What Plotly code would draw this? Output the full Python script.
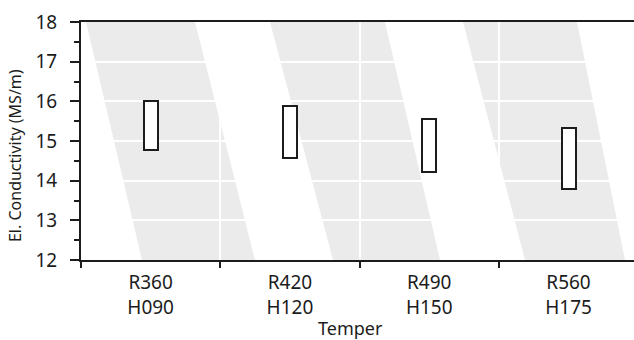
import plotly.graph_objects as go

# ---- data ----
tempers = ["R360<br>H090", "R420<br>H120", "R490<br>H150", "R560<br>H175"]
cond_low = [14.77, 14.56, 14.23, 13.80]
cond_high = [16.00, 15.87, 15.55, 15.32]
y_ticks = [12, 13, 14, 15, 16, 17, 18]

ink = "#1c1c1c"
FONT = "Noto Sans"

fig = go.Figure()
fig.add_trace(go.Bar(
    x=tempers,
    y=[h - l for h, l in zip(cond_high, cond_low)],
    base=cond_low,
    width=0.1,
    marker=dict(color="white", line=dict(color=ink, width=2)),
    showlegend=False,
    hoverinfo="skip",
))

# decorative scanned-page diagonal bands (pixel geometry of the plot area)
L, R, T, B = 81, 634, 22, 260
def px(x):
    return (x - L) / (R - L)
bands = [  # (top-left, top-right, bottom-left, bottom-right) in px
    (86, 195, 142, 255),
    (270, 385, 333, 440),
    (463, 577, 525, 625),
]
for tl, tr, bl, br in bands:
    path = (f"M {px(tl)},1 L {px(tr)},1 L {px(br)},0 L {px(bl)},0 Z")
    fig.add_shape(type="path", path=path, xref="paper", yref="paper",
                  fillcolor="#ebebeb", line=dict(width=0), layer="below")

fig.update_layout(
    width=634, height=340,
    margin=dict(l=L, r=0, t=T, b=340 - B, autoexpand=False),
    paper_bgcolor="white",
    plot_bgcolor="rgba(0,0,0,0)",
    font=dict(family=FONT, size=18, color=ink),
    showlegend=False,
    bargap=0,
)
fig.update_xaxes(
    type="category",
    categoryorder="array", categoryarray=tempers,
    range=[-0.5, 3.47],
    automargin=False,
    tickson="boundaries",
    ticks="outside", ticklen=6, tickwidth=2, tickcolor=ink,
    showline=True, linecolor=ink, linewidth=2, mirror=True,
    showgrid=True, gridcolor="white", gridwidth=1.5,
    tickfont=dict(family=FONT, size=19, color=ink),
    ticklabelstandoff=4,
)
fig.update_yaxes(
    range=[12, 18],
    automargin=False,
    tickvals=y_ticks,
    ticks="outside", ticklen=9, tickwidth=2, tickcolor=ink,
    showline=True, linecolor=ink, linewidth=2,
    showgrid=True, gridcolor="white", gridwidth=1.5,
    zeroline=False,
    minor=dict(dtick=0.5, ticks="outside", ticklen=5, tickwidth=2,
               tickcolor=ink, showgrid=False),
    tickfont=dict(family=FONT, size=19, color=ink),
    ticklabelstandoff=9,
)
fig.add_annotation(
    text="El. Conductivity (MS/m)", textangle=-90,
    xref="paper", yref="paper", x=-0.118, y=0.44,
    xanchor="center", yanchor="middle", showarrow=False,
    font=dict(family=FONT, size=16, color=ink),
)
fig.add_annotation(
    text="Temper",
    xref="paper", yref="paper", x=0.488, y=-0.284,
    xanchor="center", yanchor="middle", showarrow=False,
    font=dict(family=FONT, size=18, color=ink),
)

fig.write_html(
    "out.html",
    config={"displayModeBar": False},
    post_script="document.body.style.margin='0';document.body.style.padding='0';",
)
